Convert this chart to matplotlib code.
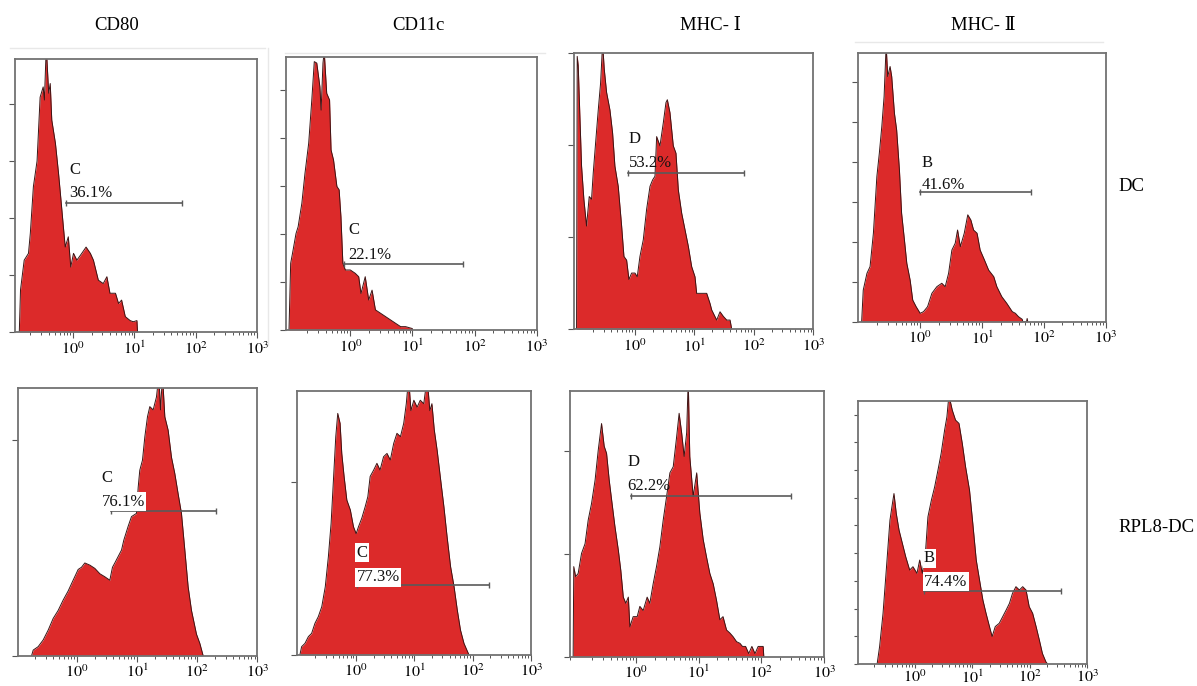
import numpy as np
import matplotlib.pyplot as plt
from matplotlib.lines import Line2D
from matplotlib.ticker import FixedLocator, LogLocator, NullFormatter, MultipleLocator

plt.rcParams['font.family'] = ['Liberation Serif', 'DejaVu Serif', 'Noto Sans CJK SC']
plt.rcParams['mathtext.fontset'] = 'stix'

markers = ["CD80", "CD11c", "MHC- Ⅰ", "MHC- Ⅱ"]
groups = ["DC", "RPL8-DC"]
decade_labels = [r"$10^{0}$", r"$10^{1}$", r"$10^{2}$", r"$10^{3}$"]

# histogram outlines: (log10 intensity, count in tick units)
cd80_dc = [(-0.88, 0), (-0.86, 0.74), (-0.80, 1.26), (-0.73, 1.38), (-0.70, 1.73),
           (-0.65, 2.55), (-0.59, 3.0), (-0.54, 4.12), (-0.49, 4.3), (-0.47, 4.07),
           (-0.44, 5.0), (-0.40, 4.19), (-0.375, 4.36), (-0.35, 3.72), (-0.29, 3.31),
           (-0.24, 2.79), (-0.21, 2.44), (-0.16, 1.84), (-0.13, 1.49), (-0.08, 1.67),
           (-0.04, 1.14), (0.005, 1.38), (0.06, 1.26), (0.14, 1.38), (0.21, 1.49),
           (0.28, 1.38), (0.33, 1.26), (0.41, 0.91), (0.49, 0.85), (0.55, 0.97),
           (0.60, 0.68), (0.69, 0.68), (0.74, 0.5), (0.79, 0.56), (0.85, 0.27),
           (0.93, 0.2), (0.98, 0.18), (1.04, 0.2), (1.05, 0)]
cd11c_dc = [(-0.987, 0), (-0.96, 1.39), (-0.93, 1.60), (-0.874, 2.01), (-0.84, 2.15),
            (-0.78, 2.64), (-0.73, 3.26), (-0.67, 3.89), (-0.62, 4.79), (-0.58, 5.59),
            (-0.54, 5.56), (-0.49, 5.07), (-0.47, 4.58), (-0.44, 5.56), (-0.42, 5.8),
            (-0.38, 4.93), (-0.334, 4.79), (-0.31, 3.75), (-0.27, 3.54), (-0.216, 2.99),
            (-0.18, 2.92), (-0.151, 2.36), (-0.12, 1.39), (-0.08, 1.25), (0.0, 1.25),
            (0.08, 1.18), (0.135, 1.11), (0.172, 0.76), (0.24, 1.11), (0.296, 0.625),
            (0.35, 0.83), (0.404, 0.42), (0.485, 0.35), (0.566, 0.28), (0.647, 0.21),
            (0.728, 0.14), (0.81, 0.07), (0.89, 0.07), (0.998, 0.03), (1.0, 0)]
mhc1_dc = [(-0.982, 0), (-0.971, 2.96), (-0.954, 2.86), (-0.926, 2.31), (-0.898, 1.77),
           (-0.859, 1.41), (-0.814, 1.12), (-0.769, 1.44), (-0.730, 1.41), (-0.701, 1.70),
           (-0.657, 2.06), (-0.617, 2.38), (-0.578, 2.67), (-0.544, 3.1), (-0.516, 2.82),
           (-0.477, 2.57), (-0.421, 2.38), (-0.376, 2.13), (-0.337, 1.77), (-0.281, 1.55),
           (-0.224, 1.12), (-0.185, 0.79), (-0.140, 0.75), (-0.101, 0.54), (-0.056, 0.61),
           (0.0, 0.61), (0.039, 0.57), (0.084, 0.79), (0.140, 0.97), (0.196, 1.30),
           (0.253, 1.55), (0.297, 1.62), (0.337, 1.66), (0.365, 2.09), (0.421, 1.99),
           (0.477, 2.24), (0.522, 2.46), (0.545, 2.49), (0.589, 2.35), (0.645, 1.99),
           (0.690, 1.91), (0.730, 1.51), (0.786, 1.26), (0.842, 1.08), (0.898, 0.90),
           (0.954, 0.68), (1.010, 0.57), (1.038, 0.39), (1.122, 0.39), (1.207, 0.39),
           (1.263, 0.28), (1.291, 0.21), (1.375, 0.10), (1.431, 0.19), (1.487, 0.14),
           (1.544, 0.10), (1.600, 0.10), (1.628, 0)]
mhc2_dc = [(-0.946, 0), (-0.92, 0.79), (-0.86, 1.21), (-0.81, 1.375), (-0.756, 2.21),
           (-0.70, 3.625), (-0.66, 4.21), (-0.62, 4.875), (-0.583, 5.625), (-0.55, 6.9),
           (-0.524, 6.125), (-0.486, 6.375), (-0.46, 6.125), (-0.416, 5.21), (-0.38, 4.79),
           (-0.335, 3.79), (-0.30, 2.71), (-0.254, 2.04), (-0.216, 1.46), (-0.162, 1.04),
           (-0.12, 0.54), (-0.065, 0.375), (0.0, 0.21), (0.054, 0.25), (0.12, 0.375),
           (0.19, 0.71), (0.27, 0.875), (0.35, 0.96), (0.405, 0.875), (0.46, 1.21),
           (0.513, 1.79), (0.567, 1.96), (0.605, 2.29), (0.65, 1.875), (0.713, 2.21),
           (0.77, 2.67), (0.82, 2.54), (0.864, 2.29), (0.92, 2.21), (0.97, 1.79),
           (1.04, 1.54), (1.107, 1.29), (1.19, 1.125), (1.24, 0.875), (1.32, 0.625),
           (1.40, 0.46), (1.49, 0.25), (1.54, 0.21), (1.59, 0.125), (1.65, 0.06),
           (1.66, 0), (1.72, 0), (1.73, 0.08), (1.74, 0)]
cd80_rpl8 = [(-0.759, 0), (-0.732, 0.026), (-0.649, 0.042), (-0.566, 0.073), (-0.482, 0.119),
             (-0.399, 0.173), (-0.316, 0.21), (-0.233, 0.258), (-0.150, 0.30), (-0.067, 0.35),
             (0.017, 0.40), (0.072, 0.41), (0.128, 0.43), (0.211, 0.42), (0.294, 0.405),
             (0.378, 0.38), (0.461, 0.366), (0.544, 0.35), (0.588, 0.41), (0.627, 0.43),
             (0.683, 0.46), (0.739, 0.49), (0.777, 0.536), (0.849, 0.60), (0.905, 0.645),
             (0.988, 0.66), (1.016, 0.78), (1.043, 0.86), (1.088, 0.907), (1.127, 1.015),
             (1.171, 1.108), (1.210, 1.155), (1.266, 1.14), (1.321, 1.20), (1.360, 1.3),
             (1.388, 1.14), (1.421, 1.3), (1.460, 1.108), (1.515, 1.046), (1.571, 0.92),
             (1.626, 0.845), (1.682, 0.75), (1.737, 0.66), (1.793, 0.49), (1.848, 0.32),
             (1.904, 0.21), (1.987, 0.10), (2.043, 0.057), (2.098, 0)]
cd11c_rpl8 = [(-0.966, 0), (-0.936, 0.048), (-0.879, 0.067), (-0.82, 0.106), (-0.764, 0.125),
              (-0.707, 0.183), (-0.65, 0.221), (-0.59, 0.279), (-0.53, 0.394), (-0.477, 0.567),
              (-0.43, 0.76), (-0.39, 1.01), (-0.35, 1.26), (-0.316, 1.394), (-0.276, 1.337),
              (-0.247, 1.163), (-0.207, 1.03), (-0.16, 0.894), (-0.10, 0.837), (-0.046, 0.74),
              (0.0, 0.70), (0.04, 0.74), (0.097, 0.79), (0.155, 0.856), (0.20, 0.913),
              (0.24, 1.03), (0.30, 1.067), (0.356, 1.106), (0.41, 1.067), (0.47, 1.144),
              (0.529, 1.163), (0.586, 1.125), (0.644, 1.221), (0.70, 1.279), (0.76, 1.26),
              (0.816, 1.337), (0.86, 1.45), (0.90, 1.6), (0.94, 1.41), (0.99, 1.47),
              (1.046, 1.43), (1.10, 1.47), (1.16, 1.45), (1.218, 1.6), (1.264, 1.41),
              (1.30, 1.45), (1.34, 1.30), (1.39, 1.18), (1.45, 1.01), (1.506, 0.854),
              (1.56, 0.683), (1.62, 0.51), (1.68, 0.394), (1.735, 0.26), (1.79, 0.144),
              (1.85, 0.067), (1.936, 0)]
mhc1_rpl8 = [(-1.0, 0), (-0.99, 0.877), (-0.96, 0.78), (-0.92, 0.81), (-0.866, 1.006),
             (-0.81, 1.10), (-0.76, 1.33), (-0.707, 1.49), (-0.65, 1.72), (-0.60, 2.01),
             (-0.547, 2.27), (-0.505, 2.05), (-0.467, 1.98), (-0.425, 1.72), (-0.387, 1.53),
             (-0.334, 1.27), (-0.28, 1.04), (-0.24, 0.84), (-0.20, 0.58), (-0.16, 0.52),
             (-0.12, 0.58), (-0.095, 0.29), (-0.043, 0.39), (0.021, 0.39), (0.064, 0.49),
             (0.117, 0.45), (0.18, 0.58), (0.223, 0.52), (0.276, 0.71), (0.33, 0.88),
             (0.383, 1.07), (0.436, 1.33), (0.49, 1.56), (0.543, 1.79), (0.596, 1.85),
             (0.65, 2.14), (0.69, 2.37), (0.73, 2.18), (0.77, 1.95), (0.81, 2.18),
             (0.835, 2.7), (0.86, 1.95), (0.914, 1.56), (0.97, 1.79), (1.02, 1.40),
             (1.074, 1.14), (1.127, 0.97), (1.18, 0.81), (1.233, 0.71), (1.286, 0.55),
             (1.34, 0.36), (1.39, 0.39), (1.446, 0.26), (1.50, 0.23), (1.55, 0.195),
             (1.606, 0.146), (1.66, 0.13), (1.70, 0.10), (1.75, 0.10), (1.80, 0.03),
             (1.85, 0.10), (1.90, 0.03), (1.95, 0.10), (2.03, 0.10), (2.04, 0)]
mhc2_rpl8 = [(-0.653, 0), (-0.61, 0.625), (-0.55, 1.83), (-0.49, 3.5), (-0.43, 5.19),
             (-0.387, 5.79), (-0.36, 6.15), (-0.32, 5.43), (-0.272, 4.83), (-0.214, 4.35),
             (-0.156, 3.87), (-0.087, 3.39), (-0.03, 3.51), (0.04, 3.27), (0.087, 3.75),
             (0.133, 3.27), (0.19, 4.11), (0.23, 5.31), (0.29, 5.91), (0.347, 6.39),
             (0.405, 7.0), (0.46, 7.6), (0.52, 8.44), (0.56, 8.92), (0.595, 9.7),
             (0.653, 9.16), (0.71, 8.8), (0.77, 8.68), (0.827, 7.96), (0.884, 7.12),
             (0.953, 6.27), (1.01, 5.07), (1.07, 3.75), (1.127, 3.03), (1.185, 2.31),
             (1.24, 1.83), (1.30, 1.35), (1.346, 0.99), (1.40, 1.35), (1.47, 1.47),
             (1.53, 1.71), (1.59, 1.95), (1.647, 2.19), (1.70, 2.55), (1.76, 2.79),
             (1.82, 2.67), (1.877, 2.79), (1.935, 2.67), (1.99, 2.07), (2.05, 1.83),
             (2.11, 1.35), (2.166, 0.87), (2.22, 0.38), (2.28, 0.08), (2.31, 0)]

curves = [cd80_dc, cd11c_dc, mhc1_dc, mhc2_dc, cd80_rpl8, cd11c_rpl8, mhc1_rpl8, mhc2_rpl8]

# gates: name, percent, log10 start, log10 end, level
gate_names = ["C", "C", "D", "B", "C", "C", "D", "B"]
gate_pcts = ["36.1%", "22.1%", "53.2%", "41.6%", "76.1%", "77.3%", "62.2%", "74.4%"]
gate_lo = [-0.11, -0.108, -0.11, 0.0, 0.56, 0.01, -0.08, 0.156]
gate_hi = [1.77, 1.82, 1.84, 1.80, 2.32, 2.28, 2.47, 2.54]
gate_level = [2.26, 1.37, 1.70, 3.23, 0.672, 0.404, 1.56, 2.64]

# layout (pixels in the 1197x686 picture)
W, H = 1197, 686
boxes = [(15, 59, 257, 332), (285.7, 57.3, 536.7, 330), (574.3, 52.7, 813.3, 329.3),
         (858.3, 52.7, 1105.7, 321.7), (17.7, 388.3, 257.3, 655.7), (297.3, 390.7, 531, 655),
         (570, 390.7, 824, 656.7), (858.3, 400.7, 1087.3, 664)]
x_left = [-0.95, -1.04, -1.02, -1.0, -0.99, -1.01, -1.05, -0.98]
y_top = [4.79, 5.68, 3.0, 6.72, 1.24, 1.525, 2.59, 9.5]
label_pos = [(-0.065, 2.84, 2.44), (-0.03, 2.08, 1.56), (-0.10, 2.06, 1.80), (0.016, 3.96, 3.42),
             (0.405, 0.822, 0.714), (0.01, 0.59, 0.448), (-0.14, 1.90, 1.66), (0.16, 3.81, 2.97)]
white_box = [False, False, False, False, True, True, False, True]
tick_len = [4.5, 4.5, 4.5, 4.5, 4.5, 4.5, 4.5, 3.0]
tick_pad = [2, 2, 2, 2, 1.5, 1.5, 1.5, 0.8]

red = '#dc2a2a'
frame = '#727272'

fig = plt.figure(figsize=(W / 100, H / 100), dpi=100)

for i in range(8):
    l, t, r, b = boxes[i]
    ax = fig.add_axes([l / W, 1 - b / H, (r - l) / W, (b - t) / H])
    lx, h = np.array(curves[i]).T
    xs = 10 ** lx
    ax.fill_between(xs, h, 0, color=red, lw=0)
    ax.plot(xs, h, color='#3b1414', lw=0.7)

    ax.set_xscale('log')
    ax.set_xlim(10 ** x_left[i], 1e3)
    ax.set_ylim(0, y_top[i])
    ax.xaxis.set_major_locator(FixedLocator([1, 10, 100, 1000]))
    ax.set_xticklabels(decade_labels)
    ax.xaxis.set_minor_locator(LogLocator(base=10, subs=np.arange(2, 10), numticks=20))
    ax.xaxis.set_minor_formatter(NullFormatter())
    ax.yaxis.set_major_locator(MultipleLocator(1))
    ax.tick_params(axis='both', which='major', direction='out', length=tick_len[i], width=0.8,
                   color='#555555', labelsize=11.5, pad=tick_pad[i])
    ax.tick_params(axis='x', which='minor', direction='out', length=2.5, width=0.7, color='#555555')
    ax.tick_params(axis='y', labelleft=False)
    for s in ax.spines.values():
        s.set_color(frame)
        s.set_linewidth(1.3)

    # gate marker
    g0, g1 = 10 ** gate_lo[i], 10 ** gate_hi[i]
    ax.plot([g0, g1], [gate_level[i], gate_level[i]], color='#5a5a5a', lw=1.2,
            marker='|', ms=5, mew=1.0)
    tx, ty1, ty2 = label_pos[i]
    bb = dict(facecolor='white', edgecolor='none', pad=1) if white_box[i] else None
    ax.text(10 ** tx, ty1, gate_names[i], fontsize=12, ha='left', va='center', color='#111111', bbox=bb)
    ax.text(10 ** tx, ty2, gate_pcts[i], fontsize=12, ha='left', va='center', color='#111111', bbox=bb)

# column titles and row labels
title_x = [117, 418, 710, 983]
for name, x in zip(markers, title_x):
    fig.text(x / W, 1 - 25 / H, name, ha='center', va='center', fontsize=13.5)
fig.text(1118 / W, 1 - 186 / H, groups[0], ha='left', va='center', fontsize=13.5)
fig.text(1118 / W, 1 - 527 / H, groups[1], ha='left', va='center', fontsize=13.5)

# faint borders left over from the scanned figure
for (x0, y0, x1, y1) in [(10, 48, 265, 48), (268, 48, 268, 345), (285, 53, 545, 53), (855, 42, 1103, 42)]:
    fig.add_artist(Line2D([x0 / W, x1 / W], [1 - y0 / H, 1 - y1 / H], color='#e8e8e8', lw=1))

fig.savefig('out.png', dpi=100)
